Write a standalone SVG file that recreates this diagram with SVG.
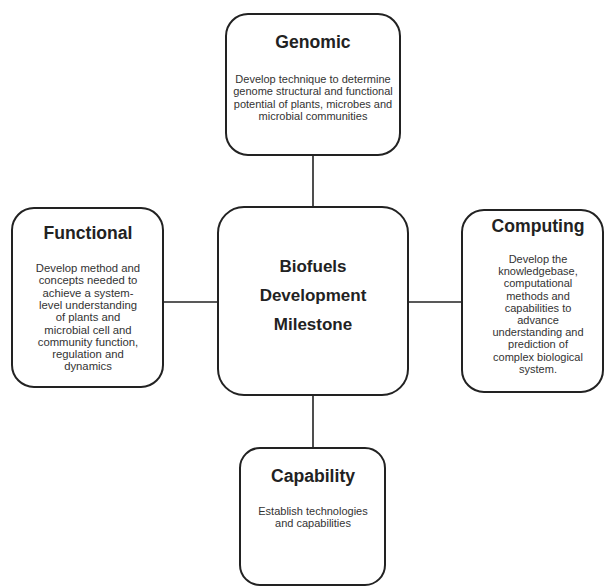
<svg xmlns="http://www.w3.org/2000/svg" width="605" height="587" viewBox="0 0 605 587">
<style>
.box{fill:#fff;stroke:#222;stroke-width:2}
.conn{stroke:#222;stroke-width:1.6;fill:none}
.title{font-family:"Liberation Sans",Arial,sans-serif;font-weight:bold;font-size:17.6px;fill:#222;text-anchor:middle}
.ctitle{font-family:"Liberation Sans",Arial,sans-serif;font-weight:bold;font-size:17px;fill:#222;text-anchor:middle}
.body{font-family:"Liberation Sans",Arial,sans-serif;font-size:11px;fill:#333;text-anchor:middle}
.fbody{font-size:11.3px}
</style>
<rect width="605" height="587" fill="#fff"/>
<g id="connectors">
<line class="conn" x1="313" y1="155" x2="313" y2="208"/>
<line class="conn" x1="313" y1="395" x2="313" y2="448"/>
<line class="conn" x1="163" y1="302" x2="218" y2="302"/>
<line class="conn" x1="407" y1="302" x2="462" y2="302"/>
</g>
<g id="genomic">
<rect class="box" x="226" y="14" width="174" height="141" rx="22"/>
<text class="title" x="313" y="48">Genomic</text>
<text class="body" x="313" y="83">Develop technique to determine</text>
<text class="body" x="313" y="95.3">genome structural and functional</text>
<text class="body" x="313" y="107.6">potential of plants, microbes and</text>
<text class="body" x="313" y="119.9">microbial communities</text>
</g>
<g id="functional">
<rect class="box" x="12" y="208" width="151" height="179" rx="22"/>
<text class="title" x="88" y="239">Functional</text>
<text class="body fbody" x="88" y="272">Develop method and</text>
<text class="body fbody" x="88" y="284.3">concepts needed to</text>
<text class="body fbody" x="88" y="296.6">achieve a system-</text>
<text class="body fbody" x="88" y="308.9">level understanding</text>
<text class="body fbody" x="88" y="321.2">of plants and</text>
<text class="body fbody" x="88" y="333.5">microbial cell and</text>
<text class="body fbody" x="88" y="345.8">community function,</text>
<text class="body fbody" x="88" y="358.1">regulation and</text>
<text class="body fbody" x="88" y="370.4">dynamics</text>
</g>
<g id="center">
<rect class="box" x="218" y="207" width="190" height="188" rx="26"/>
<text class="ctitle" x="313" y="272">Biofuels</text>
<text class="ctitle" x="313" y="301">Development</text>
<text class="ctitle" x="313" y="330">Milestone</text>
</g>
<g id="computing">
<rect class="box" x="462" y="210" width="141" height="182" rx="22"/>
<text class="title" x="538" y="232">Computing</text>
<text class="body" x="538" y="263">Develop the</text>
<text class="body" x="538" y="275.2">knowledgebase,</text>
<text class="body" x="538" y="287.4">computational</text>
<text class="body" x="538" y="299.6">methods and</text>
<text class="body" x="538" y="311.8">capabilities to</text>
<text class="body" x="538" y="324">advance</text>
<text class="body" x="538" y="336.2">understanding and</text>
<text class="body" x="538" y="348.4">prediction of</text>
<text class="body" x="538" y="360.6">complex biological</text>
<text class="body" x="538" y="372.8">system.</text>
</g>
<g id="capability">
<rect class="box" x="240" y="448" width="145" height="137" rx="20"/>
<text class="title" x="313" y="482">Capability</text>
<text class="body" x="313" y="515">Establish technologies</text>
<text class="body" x="313" y="527">and capabilities</text>
</g>
</svg>
